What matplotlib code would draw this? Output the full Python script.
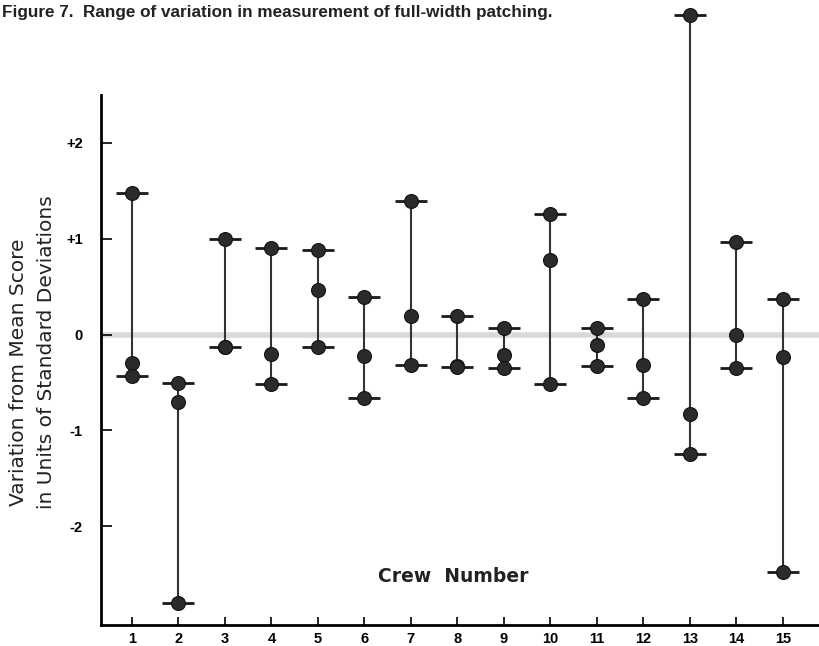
import matplotlib
matplotlib.use("Agg")
import matplotlib.pyplot as plt
import numpy as np

crews = list(range(1, 16))
top = [1.48, -0.51, 1.00, 0.90, 0.88, 0.39, 1.39, 0.19, 0.07, 1.26, 0.07, 0.37, 3.33, 0.97, 0.37]
middle = [-0.30, -0.70, -0.13, -0.20, 0.46, -0.22, 0.19, -0.33, -0.21, 0.78, -0.11, -0.32, -0.83, 0.00, -0.23]
bottom = [-0.43, -2.80, -0.13, -0.52, -0.13, -0.66, -0.32, -0.34, -0.35, -0.52, -0.33, -0.66, -1.25, -0.35, -2.48]
ytick_vals = [2, 1, 0, -1, -2]
ytick_labels = ["+2", "+1", "0", "-1", "-2"]

plt.rcParams['font.family'] = ['Liberation Sans', 'DejaVu Sans']

fig = plt.figure(figsize=(8.2, 6.46), dpi=100)
ax = fig.add_axes([0.123, 0.0325, 0.877, 0.8205])
ax.set_xlim(0.33, 15.8)
ax.set_ylim(-3.03, 2.5)

# faint zero line
ax.axhline(0, color='#d9d9d9', lw=4, zorder=0)

dark = '#2b2b2b'
for x, t, m, b in zip(crews, top, middle, bottom):
    ax.plot([x, x], [b, t], color='#333333', lw=1.5, zorder=2, clip_on=False)
    ax.plot([x, x], [t, b], ls='none', marker='_', ms=23, mew=2, color='#1a1a1a', zorder=3, clip_on=False)
    ax.plot([x, x, x], [t, m, b], ls='none', marker='o', ms=10, color=dark, mec='#111111', mew=0.8, zorder=4, clip_on=False)

for s in ['top', 'right']:
    ax.spines[s].set_visible(False)
ax.spines['left'].set_linewidth(2)
ax.spines['bottom'].set_linewidth(2)

ax.set_xticks(crews)
ax.set_xticklabels([str(c) for c in crews], fontsize=10.5, fontweight='bold')
ax.set_yticks(ytick_vals)
ax.set_yticklabels(ytick_labels, fontsize=10.5, fontweight='bold')
ax.tick_params(axis='x', direction='in', length=6, width=1.2, pad=5)
ax.tick_params(axis='y', direction='in', length=8, width=1.2, pad=13)

fig.text(19 / 820, 1 - 372 / 646, "Variation from Mean Score", fontsize=14.5, rotation=90,
         ha='center', va='center', family='DejaVu Sans', color='#222222')
fig.text(47 / 820, 1 - 352 / 646, "in Units of Standard Deviations", fontsize=14.5, rotation=90,
         ha='center', va='center', family='DejaVu Sans', color='#222222')

ax.text(7.92, -2.52, "Crew  Number", fontsize=13.5, fontweight='bold', ha='center', va='center',
        family='DejaVu Sans', color='#222222')

fig.text(0.003, 0.98, "Figure 7.  Range of variation in measurement of full-width patching.",
         fontsize=12.3, fontweight='bold', ha='left', va='center', color='#222222')

fig.savefig("out.png", dpi=100)
